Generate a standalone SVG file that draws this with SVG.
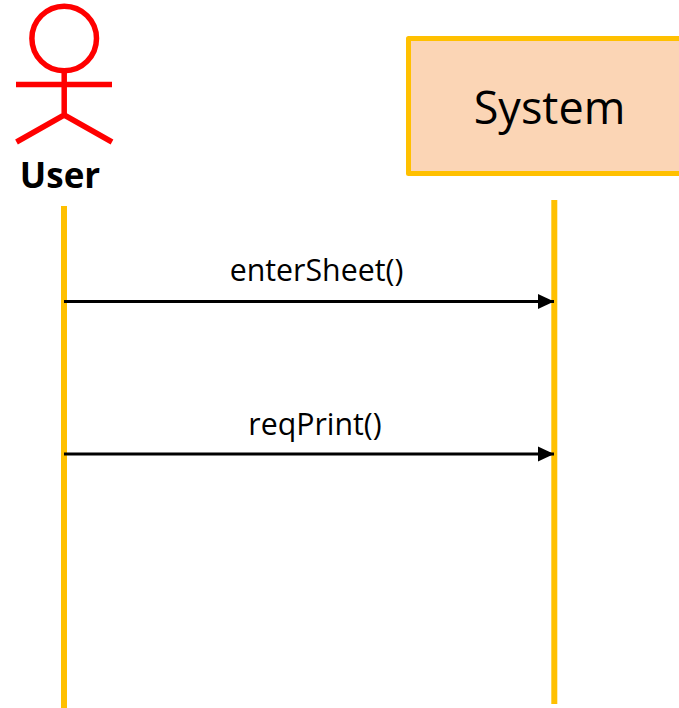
<svg xmlns="http://www.w3.org/2000/svg" width="679" height="708" viewBox="0 0 679 708">
<style>
.life{stroke:#ffc000;stroke-width:6;fill:none}
.actor{stroke:#ff0000;stroke-width:5.500;fill:none}
.msg{stroke:#000;stroke-width:3;fill:none;marker-end:url(#arrow)}
text{font-family:"Open Sans","Noto Sans","Liberation Sans",sans-serif;fill:#000}
</style>
<defs><marker id="arrow" markerUnits="userSpaceOnUse" markerWidth="16" markerHeight="16" refX="16" refY="8" orient="auto"><path d="M0 0.500L16 8L0 15.500Z" fill="#000"/></marker></defs>
<rect width="679" height="708" fill="#fff"/>
<g id="user">
<circle class="actor" cx="64.200" cy="38.500" r="32.300"/>
<path class="actor" d="M64.200 71V115M16 84.500H112M16.500 142L64.200 115L112 142"/>
<text x="60" y="188" font-size="35" font-weight="700" text-anchor="middle">User</text>
<line class="life" x1="64" y1="206" x2="64" y2="708"/>
</g>
<g id="system">
<rect x="408.500" y="38.500" width="290" height="135" fill="#fbd5b5" stroke="#ffc000" stroke-width="5" stroke-linejoin="round"/>
<text x="549.500" y="124" font-size="45" text-anchor="middle">System</text>
<line class="life" x1="554.300" y1="200" x2="554.300" y2="704"/>
</g>
<g id="connectors">
<line class="msg" x1="64" y1="301.500" x2="554" y2="301.500"/>
<line class="msg" x1="64" y1="454" x2="554" y2="454"/>
<text x="316.500" y="281" font-size="30.300" text-anchor="middle">enterSheet()</text>
<text x="315" y="435" font-size="30.300" text-anchor="middle">reqPrint()</text>
</g>
</svg>
